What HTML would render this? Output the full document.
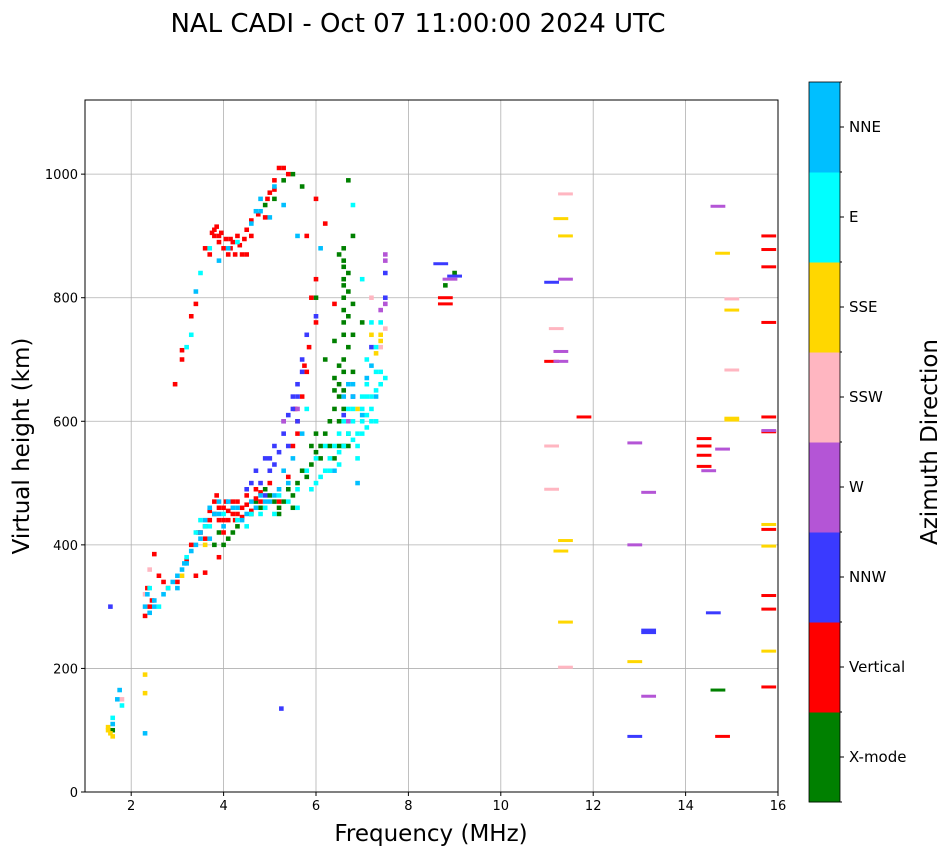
<!DOCTYPE html>
<html><head><meta charset="utf-8"><style>
body{margin:0;background:#fff;font-family:"Liberation Sans","DejaVu Sans",sans-serif;}
svg text{font-family:"DejaVu Sans","Liberation Sans",sans-serif;}
</style></head><body>
<svg id="chart" width="951" height="856" xmlns="http://www.w3.org/2000/svg">
<text x="418" y="32" font-size="26" text-anchor="middle">NAL CADI - Oct 07 11:00:00 2024 UTC</text>
<g id="grid"></g><g id="marks"></g><g id="axes"></g><g id="cbar"></g>
<text x="431" y="841" font-size="23" text-anchor="middle">Frequency (MHz)</text>
<text transform="translate(29,446) rotate(-90)" font-size="23" text-anchor="middle">Virtual height (km)</text>
<text transform="translate(937,442) rotate(-90)" font-size="23" text-anchor="middle">Azimuth Direction</text>
</svg>
<script>
const categories=["X-mode","Vertical","NNW","W","SSW","SSE","E","NNE"];
const colors=["#008000","#ff0000","#3a3aff","#b455d6","#ffb6c1","#ffd700","#00ffff","#00bfff"];
const xTicks=[2,4,6,8,10,12,14,16];
const yTicks=[0,200,400,600,800,1000];
const pts=[
"1.6,100 3.8,400 4.0,400 4.1,410 4.6,450 4.8,460 5.0,480 5.2,460 5.3,470 5.5,480 5.6,500 5.8,510 5.9,530 6.0,550 6.1,560 6.2,580 6.3,600 6.4,620 6.5,640 6.5,660 6.6,680 6.6,700 6.7,720 6.8,740 6.6,760 6.6,780 6.6,800 6.6,820 6.7,840 6.6,860 6.6,880 6.8,900 6.7,990 6.0,800 6.2,700 6.4,730 6.8,790 7.0,760 6.5,560 6.4,540 5.3,990 5.5,1000 5.7,980 4.9,950 5.1,960 8.8,820 9.0,840 6.6,830 6.4,670 4.7,470 4.9,490 5.1,470 5.4,490 5.7,520 6.1,540 6.3,560 6.5,600 6.6,620 6.4,650 6.6,650 6.7,580 6.5,690 6.6,740 6.7,770 6.6,850 6.7,810 6.5,870 6.0,580 5.9,560 4.2,420 4.3,430 3.9,420 5.5,460 5.2,450 6.8,680 6.6,560 6.7,560",
"2.3,285 2.4,300 2.5,385 2.6,350 2.8,330 3.0,340 3.2,375 3.4,350 3.6,410 3.7,455 3.8,470 3.9,440 4.0,460 4.1,440 4.2,450 4.3,470 4.5,480 4.4,460 4.7,490 4.8,470 5.0,500 5.2,470 5.4,510 5.5,560 5.6,600 5.7,640 5.8,680 6.0,760 5.9,800 6.0,830 6.2,920 6.0,960 3.1,700 3.1,715 3.3,770 3.4,790 3.6,880 3.7,870 3.8,910 3.9,900 4.0,880 4.1,870 4.2,890 4.3,900 4.4,870 4.5,910 4.6,900 4.9,930 5.0,970 5.2,1010 5.4,1000 4.0,420 3.6,355 2.95,660 6.4,790 3.9,380 5.8,900 3.75,905 3.85,915 4.15,895 3.8,450 3.9,460 4.0,440 4.1,455 4.2,470 4.3,450 4.4,445 4.5,465 4.6,455 4.7,475 4.8,485 3.7,440 3.6,430 3.5,420 3.85,480 4.05,470 4.25,440 3.95,905 4.05,895 4.15,880 4.25,870 4.35,885 4.45,895 3.9,890 3.8,900 4.5,870 4.6,925 4.75,935 4.95,960 5.1,990 5.3,1010 5.1,975 2.35,330 2.45,310 2.7,340 3.3,400 3.45,420 5.6,580 5.55,620 5.75,690 5.85,720",
"1.55,300 5.25,135 4.6,500 4.7,520 4.9,540 5.1,560 5.3,580 5.4,610 5.5,640 5.6,660 5.7,680 5.5,620 5.6,600 5.7,700 5.8,740 6.0,770 6.6,610 6.8,640 7.2,720 7.5,800 7.5,840 4.9,480 5.0,520 5.2,550 4.8,500 5.0,540 5.3,600 5.4,560 5.6,640 4.5,490 5.1,530",
"5.6,620 5.3,600 7.5,870 7.5,790 7.4,780 6.7,600 7.5,860",
"1.8,150 2.3,320 2.4,360 7.5,750 7.4,720 7.2,800",
"1.5,100 1.55,95 1.6,90 2.3,190 2.3,160 3.1,350 3.6,400 7.2,740 7.4,740 7.3,710 6.9,620 1.5,105 7.4,730",
"1.6,120 1.8,140 2.4,330 2.6,300 2.8,330 3.2,380 3.5,440 3.7,430 4.0,450 4.3,440 4.5,430 4.9,460 5.1,450 5.4,470 5.6,490 5.8,520 6.0,500 6.2,520 6.3,540 6.5,530 6.6,560 6.7,580 6.8,600 6.9,560 7.0,620 7.1,590 7.2,620 7.3,650 7.4,660 7.5,670 7.1,700 7.2,760 7.3,720 7.4,680 6.9,540 7.0,640 6.5,580 3.2,720 3.3,740 3.7,880 3.5,840 4.3,890 6.8,950 7.0,830 7.4,760 5.8,620 6.2,560 6.0,540 5.6,460 4.6,450 7.0,600 7.1,610 7.2,640 7.1,660 7.3,600 6.9,580 6.8,570 6.6,600 6.7,620 6.8,620 7.0,580 7.2,600 7.3,680 7.1,640 6.4,560 6.3,520 6.5,550 6.1,510 5.9,490 3.6,430 3.4,420 4.8,450 5.2,480",
"1.6,110 1.7,150 1.75,165 2.3,300 2.35,320 2.4,290 2.5,310 2.7,320 2.9,340 3.0,350 3.1,360 3.2,370 3.3,390 3.4,400 3.5,420 3.6,440 3.7,410 3.8,450 3.9,470 4.0,430 4.2,460 4.4,440 4.6,470 4.8,480 5.0,470 5.2,490 5.3,520 5.5,540 5.7,580 4.7,940 4.8,960 5.0,930 5.1,980 5.3,950 5.6,900 6.1,880 6.6,640 6.8,660 7.0,610 7.2,690 7.3,640 2.3,95 3.4,810 3.9,860 4.1,880 6.9,500 6.4,520 3.5,410 3.7,460 3.9,450 4.1,470 4.3,460 4.5,450 4.7,460 4.9,470 5.1,480 5.4,500 3.0,330 3.15,370 2.5,300 4.6,920 4.8,940 6.8,640 7.1,670 6.7,660"
];
const wide=[
"14.7,165",
"8.8,800 8.8,790 11.1,697 11.8,607 14.4,572 14.4,560 14.4,545 14.4,527 14.8,90 15.8,900 15.8,878 15.8,850 15.8,760 15.8,607 15.8,583 15.8,425 15.8,318 15.8,296 15.8,170",
"8.7,855 11.1,825 12.9,90 13.2,262 13.2,258 14.6,290 9.0,835",
"12.9,565 12.9,400 13.2,485 13.2,155 14.8,555 14.5,520 14.7,948 15.8,585 11.3,713 11.3,697 11.4,830 8.9,830",
"11.1,560 11.1,490 11.2,750 11.4,968 11.4,202 15.0,798 15.0,683",
"11.3,928 11.4,900 11.3,390 11.4,407 11.4,275 12.9,211 14.8,872 15.0,780 15.0,605 15.0,602 15.8,433 15.8,398 15.8,228",
"",""
];
const NS="http://www.w3.org/2000/svg";
const X0=85,X1=778,Y0=792,Y1=100;
const xs=f=>X0+(f-1)/15*(X1-X0);
const ys=h=>Y0-h/1120*(Y0-Y1);
function mk(t,a,p){const e=document.createElementNS(NS,t);for(const k in a)e.setAttribute(k,a[k]);p.appendChild(e);return e;}
const grid=document.getElementById('grid'),axes=document.getElementById('axes'),marks=document.getElementById('marks'),cb=document.getElementById('cbar');
xTicks.forEach(t=>{
 const l=mk('line',{x1:xs(t),x2:xs(t),y1:Y1,y2:Y0,stroke:'#b0b0b0','stroke-width':0.8},grid);
 
 
 mk('line',{x1:xs(t),x2:xs(t),y1:Y0,y2:Y0+4,stroke:'#000'},axes);
 const tx=mk('text',{x:xs(t),y:Y0+18,'font-size':13,'text-anchor':'middle'},axes);tx.textContent=t;
 
 
});
yTicks.forEach(t=>{
 const l=mk('line',{x1:X0,x2:X1,y1:ys(t),y2:ys(t),stroke:'#b0b0b0','stroke-width':0.8},grid);
 
 
 mk('line',{x1:X0-4,x2:X0,y1:ys(t),y2:ys(t),stroke:'#000'},axes);
 const tx=mk('text',{x:X0-7,y:ys(t)+5,'font-size':13,'text-anchor':'end'},axes);tx.textContent=t;
 
 
});
const fr=mk('rect',{x:X0,y:Y1,width:X1-X0,height:Y0-Y1,fill:'none',stroke:'#000'},axes);


function draw(list,w,hh){
 list.forEach((s,c)=>{s.split(' ').filter(Boolean).forEach(p=>{
  const [f,h]=p.split(',').map(Number);
  const x=xs(f-w/2),x2=xs(f+w/2);
  const r=mk('rect',{x:x,y:ys(h)-hh/2,width:x2-x,height:hh,fill:colors[c]},marks);
  
  
 });});
}
draw(pts,0.1,4.5);draw(wide,0.32,3);
const CX=809,CW=31,CT=82,CB=802,seg=(CB-CT)/8;
categories.forEach((n,i)=>{
 const y=CB-(i+1)*seg;
 const r=mk('rect',{x:CX,y:y,width:CW,height:seg+0.5,fill:colors[i]},cb);
 
 
 mk('line',{x1:CX+CW,x2:CX+CW+4,y1:y+seg/2,y2:y+seg/2,stroke:'#000'},cb);
 const t=mk('text',{x:CX+CW+9,y:y+seg/2+5,'font-size':15},cb);t.textContent=n;
 
 
});
for(let i=0;i<=8;i++)mk('line',{x1:CX+CW,x2:CX+CW+2,y1:CT+i*seg,y2:CT+i*seg,stroke:'#000'},cb);
mk('rect',{x:CX,y:CT,width:CW,height:CB-CT,fill:'none',stroke:'#000','stroke-width':0.8},cb);
</script>
</body></html>
